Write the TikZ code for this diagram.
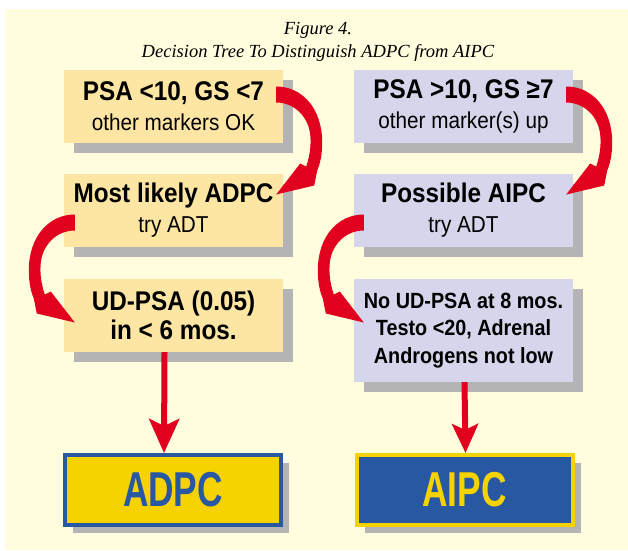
\documentclass[tikz,border=0pt]{standalone}
\usepackage{fontspec}
\setmainfont{Liberation Sans}[FakeStretch=0.9]
\newfontfamily\titlefont{Liberation Serif}
\newfontfamily\bigfont{Liberation Sans}[FakeStretch=0.72]
\usetikzlibrary{arrows.meta,shadows,calc}
\definecolor{bgcream}{HTML}{FFFDDE}
\definecolor{boxyellow}{HTML}{FDE5A3}
\definecolor{boxlilac}{HTML}{D5D5EB}
\definecolor{shadowgray}{HTML}{B4B4B4}
\definecolor{arrowred}{HTML}{E1001E}
\definecolor{ptblue}{HTML}{2958A3}
\definecolor{ptyellow}{HTML}{F6D300}
\tikzset{
  bendarrow/.pic={
    \fill[arrowred] (0,-8) .. controls (26,-8) and (46,14) .. (46,48)
      .. controls (46,60) and (44,69) .. (41,76) -- (38,91) -- (0,100) -- (24,69) -- (30,72)
      .. controls (34,60) and (35,50) .. (34,40) .. controls (32,22) and (18,8) .. (0,8) -- cycle;
  }
}
\begin{document}
\begin{tikzpicture}[x=1pt, y=-1pt,
    box/.style={minimum width=219pt, minimum height=73pt, inner sep=0pt, align=center,
      font=\fontsize{23}{30}\selectfont,
      drop shadow={shadow xshift=10pt, shadow yshift=-10pt, fill=shadowgray, opacity=1}},
    endbox/.style={minimum width=216pt, minimum height=70pt, inner sep=0pt, line width=4pt,
      font=\bigfont\bfseries\fontsize{49}{50}\selectfont,
      drop shadow={shadow xshift=8pt, shadow yshift=-8pt, fill=shadowgray, opacity=1}},
    droparrow/.style={draw=arrowred, line width=6pt}]
  \useasboundingbox (0,0) rectangle (628,550);
  \fill[bgcream] (5,9) rectangle (628,550);
  \node[align=center, font=\titlefont\itshape\fontsize{18.5}{23}\selectfont] (title) at (318,42)
    {Figure 4.\\Decision Tree To Distinguish ADPC from AIPC};
  \node[box, fill=boxyellow] (lowpsa) at (173.5,106.5)
    {{\bfseries\fontsize{27}{30}\selectfont PSA <10, GS <7}\\other markers OK};
  \node[box, fill=boxlilac] (highpsa) at (463.5,106.5)
    {{\bfseries\fontsize{27}{30}\selectfont PSA >10, GS ≥7}\\other marker(s) up};
  \node[box, fill=boxyellow] (likely) at (173.5,210.5)
    {{\bfseries\fontsize{27}{30}\selectfont Most likely ADPC}\\try ADT};
  \node[box, fill=boxlilac] (possible) at (463.5,210.5)
    {{\bfseries\fontsize{27}{30}\selectfont Possible AIPC}\\try ADT};
  \node[box, fill=boxyellow, font=\bfseries\fontsize{27}{29}\selectfont] (udpsa) at (173.5,315.5)
    {UD-PSA (0.05)\\in < 6 mos.};
  \node[box, fill=boxlilac, minimum height=103pt, font=\bfseries\fontsize{22}{27.5}\selectfont]
    (noud) at (463.5,330.5) {No UD-PSA at 8 mos.\\Testo <20, Adrenal\\Androgens not low};
  \node[endbox, draw=ptblue, fill=ptyellow, text=ptblue] (adpc) at (173,490) {ADPC};
  \node[endbox, draw=ptyellow, fill=ptblue, text=ptyellow] (aipc) at (464.5,490) {AIPC};
  \path ($(lowpsa.east)+(-7,-12)$) pic {bendarrow};
  \path ($(highpsa.east)+(-7,-12)$) pic {bendarrow};
  \path ($(likely.west)+(11,12)$) pic[xscale=-1] {bendarrow};
  \path ($(possible.west)+(10,12)$) pic[xscale=-1] {bendarrow};
  \draw[droparrow, -{Stealth[length=34pt, width=30pt, inset=7pt]}]
    ([xshift=-9pt]udpsa.south) -- ([xshift=-9pt]adpc.north);
  \draw[droparrow, -{Stealth[length=29pt, width=26pt, inset=6pt]}]
    ([xshift=1pt]noud.south) -- ([xshift=1pt]aipc.north);
\end{tikzpicture}
\end{document}
